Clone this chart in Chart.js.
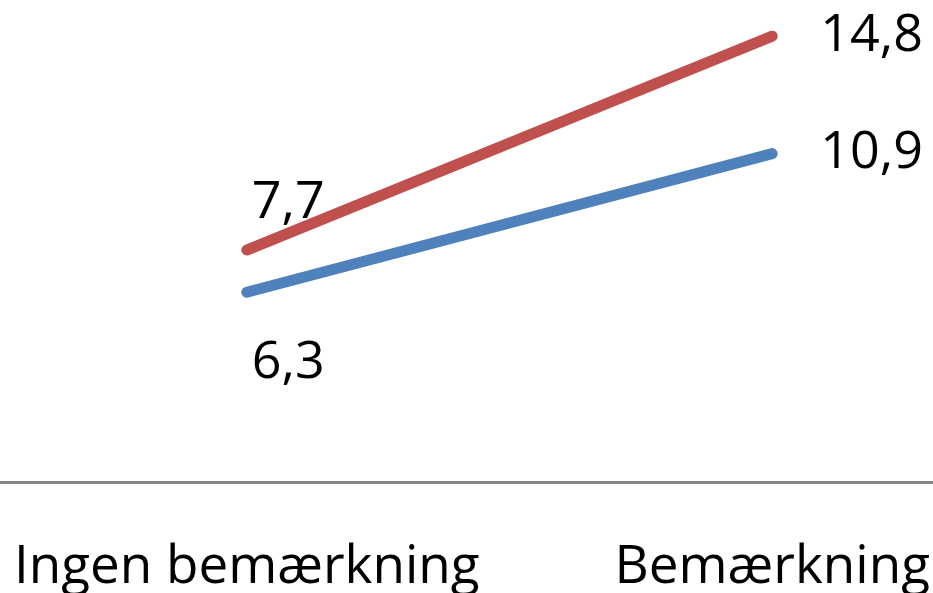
<!DOCTYPE html>
<html>
<head>
<meta charset="utf-8">
<script src="https://cdn.jsdelivr.net/npm/chart.js@4/dist/chart.umd.min.js"></script>
<style>
  html, body { margin: 0; padding: 0; background: #fff; overflow: hidden; }
  #wrap { position: absolute; left: -16px; top: 0; width: 1051px; height: 593px; }
</style>
</head>
<body>
<div id="wrap"><canvas id="c"></canvas></div>
<script>
var kategorier = ["Ingen bemærkning", "Bemærkning"];
var serieRoed = [7.7, 14.8];
var serieBlaa = [6.3, 10.9];

// label placement per point: [dx, dy, align, baseline]
var placeringRoed = [[5, -32, 'left', 'alphabetic'], [48, 0, 'left', 'middle']];
var placeringBlaa = [[5, 86, 'left', 'alphabetic'], [48, 0, 'left', 'middle']];

function fmt(v) { return v.toFixed(1).replace('.', ','); }

var etiketter = {
  id: 'etiketter',
  afterDatasetsDraw: function(chart) {
    var ctx = chart.ctx;
    ctx.save();
    ctx.fillStyle = '#000';
    ctx.font = '52px "Open Sans", sans-serif';
    chart.data.datasets.forEach(function(ds, i) {
      var meta = chart.getDatasetMeta(i);
      meta.data.forEach(function(pt, j) {
        var p = ds.placering[j];
        ctx.textAlign = p[2];
        ctx.textBaseline = p[3];
        ctx.fillText(fmt(ds.data[j]), pt.x + p[0], pt.y + p[1]);
      });
    });
    ctx.restore();
  }
};

new Chart(document.getElementById("c").getContext("2d"), {
  type: 'line',
  data: {
    labels: kategorier,
    datasets: [
      { label: "Rød", data: serieRoed, borderColor: '#C0504D', borderWidth: 11, pointRadius: 0, borderCapStyle: 'round', clip: false, placering: placeringRoed },
      { label: "Blå", data: serieBlaa, borderColor: '#4F81BD', borderWidth: 11, pointRadius: 0, borderCapStyle: 'round', clip: false, placering: placeringBlaa }
    ]
  },
  options: {
    responsive: true,
    maintainAspectRatio: false,
    animation: false,
    layout: { padding: 0 },
    plugins: { legend: { display: false }, tooltip: { enabled: false } },
    scales: {
      y: { display: false, min: 0, max: 16 },
      x: {
        offset: true,
        afterFit: function(s) { s.height = 111; s.paddingLeft = 0; s.paddingRight = 0; },
        border: { display: true, color: '#868686', width: 3 },
        grid: { display: false, drawTicks: false },
        ticks: { color: '#000', padding: 54, maxRotation: 0, autoSkip: false, font: { family: '"Open Sans", sans-serif', size: 53 } }
      }
    }
  },
  plugins: [etiketter]
});
</script>
</body>
</html>
